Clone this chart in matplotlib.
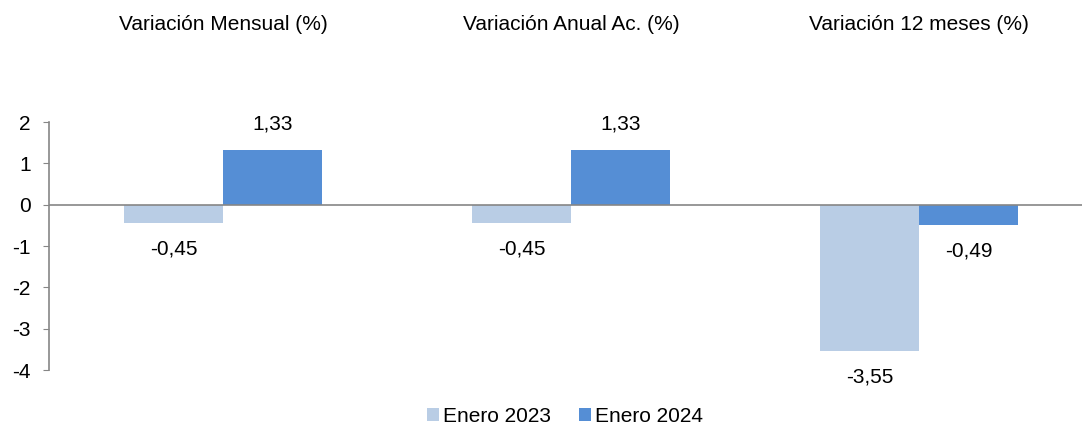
import matplotlib.pyplot as plt
import numpy as np

plt.rcParams['font.family'] = ['Liberation Sans', 'DejaVu Sans']
plt.rcParams['axes.unicode_minus'] = False

categories = ["Variación Mensual (%)", "Variación Anual Ac. (%)", "Variación 12 meses (%)"]
series_names = ["Enero 2023", "Enero 2024"]
enero_2023 = [-0.45, -0.45, -3.55]
enero_2024 = [1.33, 1.33, -0.49]
colors = ["#B9CDE5", "#558ED5"]
fs = 15

fig = plt.figure(figsize=(10.82, 4.25), dpi=100)
ax = fig.add_axes([49 / 1082, 55 / 425, 1044 / 1082, 248 / 425])

x = np.arange(len(categories))
w = 0.285
b1 = ax.bar(x - w / 2, enero_2023, w, color=colors[0], label=series_names[0], zorder=2)
b2 = ax.bar(x + w / 2, enero_2024, w, color=colors[1], label=series_names[1], zorder=2)

for bars, vals in [(b1, enero_2023), (b2, enero_2024)]:
    for r, v in zip(bars, vals):
        off = 0.62 if v > 0 else -0.62
        ax.text(r.get_x() + r.get_width() / 2, v + off, ("%.2f" % v).replace(".", ","),
                ha="center", va="center", fontsize=fs)

ax.set_xlim(-0.5, 2.5)
ax.set_ylim(-4, 2)
ax.set_yticks(range(-4, 3))
ax.axhline(0, color="#868686", lw=1.2, zorder=3)
for s in ["top", "right", "bottom"]:
    ax.spines[s].set_visible(False)
ax.spines["left"].set_color("#868686")
ax.spines["left"].set_linewidth(1.2)
ax.tick_params(axis="y", colors="#868686", labelcolor="black", labelsize=fs, length=4, pad=9)
ax.set_xticks([])

for i, c in enumerate(categories):
    fig.text((49 + (i + 0.5) * 348) / 1082, 1 - 25 / 425, c, ha="center", va="center", fontsize=fs)

fig.legend(loc="center", bbox_to_anchor=(565 / 1082, 1 - 416 / 425), ncol=2, frameon=False,
           fontsize=fs, handlelength=0.6, handleheight=0.6, handletextpad=0.2, columnspacing=1.3)

fig.savefig("out.png", dpi=100)
